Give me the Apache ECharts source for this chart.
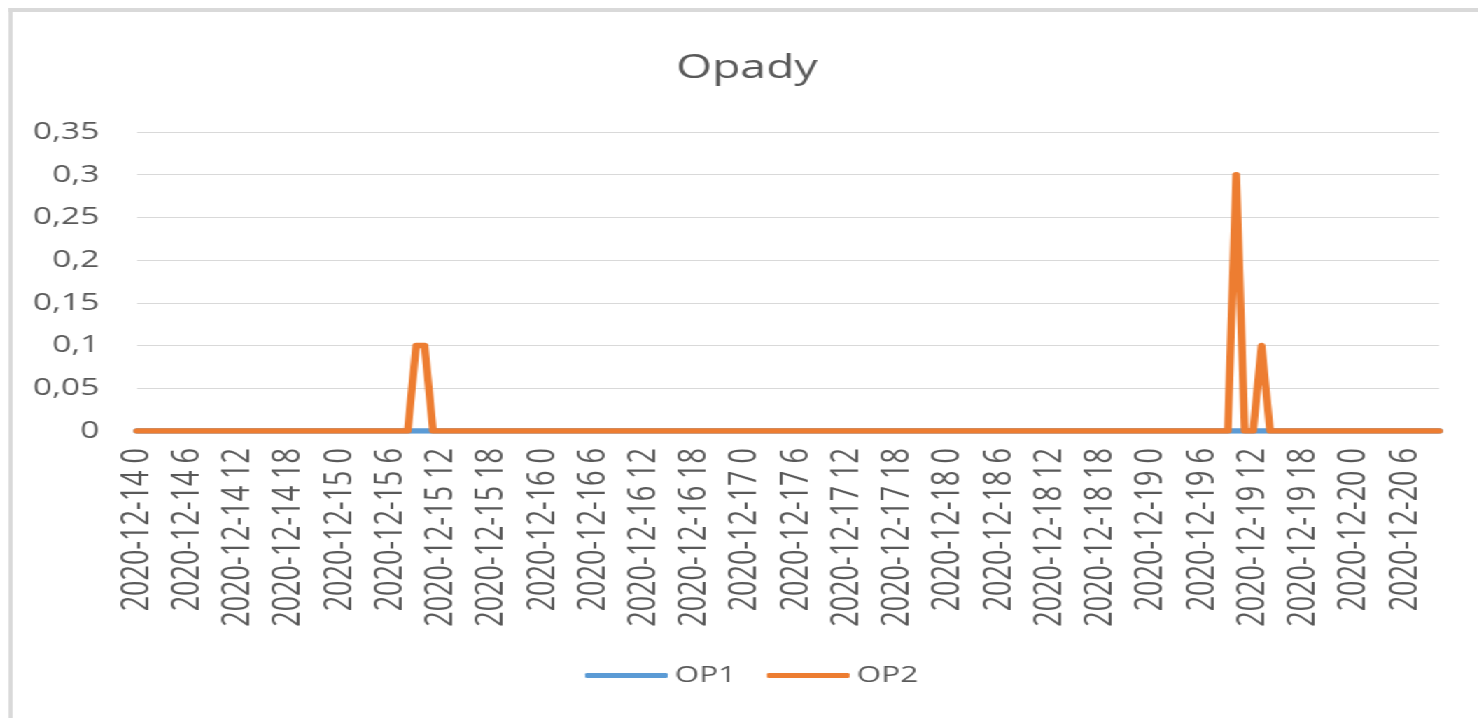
<!DOCTYPE html>
<html>
<head>
<meta charset="utf-8">
<title>Opady</title>
<script src="https://cdn.jsdelivr.net/npm/echarts@6/dist/echarts.min.js"></script>
<style>
  html, body { margin: 0; padding: 0; background: #fff; overflow: hidden; }
  /* the reference picture is stretched horizontally, so draw narrow and scale */
  #wrap {
    position: absolute; left: 0; top: 0;
    width: 1056px; height: 718px;
    transform: scaleX(1.4); transform-origin: 0 0;
  }
  #frame {
    position: absolute; left: 6px; top: 8px; right: -20px; bottom: -20px;
    border-left: 3px solid #d9d9d9; border-top: 4px solid #d9d9d9;
  }
  #chart { position: absolute; left: 0; top: 0; width: 1056px; height: 718px; }
</style>
</head>
<body>
<div id="wrap">
  <div id="frame"></div>
  <div id="chart"></div>
</div>
<script>
// hourly readings, 2020-12-14 0:00 .. 2020-12-20 10:00
const days = ['2020-12-14', '2020-12-15', '2020-12-16', '2020-12-17', '2020-12-18', '2020-12-19', '2020-12-20']
const pointCount = 155

const categories = []
for (let i = 0; i < pointCount; i++) {
  categories.push(days[Math.floor(i / 24)] + ' ' + (i % 24))
}

const op1 = [
  0, 0, 0, 0, 0, 0, 0, 0, 0, 0, 0, 0, 0, 0, 0, 0, 0, 0, 0, 0, 0, 0, 0, 0,
  0, 0, 0, 0, 0, 0, 0, 0, 0, 0, 0, 0, 0, 0, 0, 0, 0, 0, 0, 0, 0, 0, 0, 0,
  0, 0, 0, 0, 0, 0, 0, 0, 0, 0, 0, 0, 0, 0, 0, 0, 0, 0, 0, 0, 0, 0, 0, 0,
  0, 0, 0, 0, 0, 0, 0, 0, 0, 0, 0, 0, 0, 0, 0, 0, 0, 0, 0, 0, 0, 0, 0, 0,
  0, 0, 0, 0, 0, 0, 0, 0, 0, 0, 0, 0, 0, 0, 0, 0, 0, 0, 0, 0, 0, 0, 0, 0,
  0, 0, 0, 0, 0, 0, 0, 0, 0, 0, 0, 0, 0, 0, 0, 0, 0, 0, 0, 0, 0, 0, 0, 0,
  0, 0, 0, 0, 0, 0, 0, 0, 0, 0, 0
]

const op2 = [
  0, 0, 0, 0, 0, 0, 0, 0, 0, 0, 0, 0, 0, 0, 0, 0, 0, 0, 0, 0, 0, 0, 0, 0,
  0, 0, 0, 0, 0, 0, 0, 0, 0, 0.1, 0.1, 0, 0, 0, 0, 0, 0, 0, 0, 0, 0, 0, 0, 0,
  0, 0, 0, 0, 0, 0, 0, 0, 0, 0, 0, 0, 0, 0, 0, 0, 0, 0, 0, 0, 0, 0, 0, 0,
  0, 0, 0, 0, 0, 0, 0, 0, 0, 0, 0, 0, 0, 0, 0, 0, 0, 0, 0, 0, 0, 0, 0, 0,
  0, 0, 0, 0, 0, 0, 0, 0, 0, 0, 0, 0, 0, 0, 0, 0, 0, 0, 0, 0, 0, 0, 0, 0,
  0, 0, 0, 0, 0, 0, 0, 0, 0, 0, 0.3, 0, 0, 0.1, 0, 0, 0, 0, 0, 0, 0, 0, 0, 0,
  0, 0, 0, 0, 0, 0, 0, 0, 0, 0, 0
]

const textColor = '#595959'
const font = '"Open Sans", "Liberation Sans", sans-serif'

const chart = echarts.init(document.getElementById('chart'))

chart.setOption({
  animation: false,
  color: ['#5B9BD5', '#ED7D31'],
  textStyle: { fontFamily: font },
  title: {
    text: 'Opady',
    left: 478,
    top: 47,
    textStyle: { fontSize: 33, fontWeight: 'normal', color: textColor, fontFamily: font }
  },
  legend: {
    data: ['OP1', 'OP2'],
    left: 413,
    top: 659,
    icon: 'roundRect',
    itemWidth: 59,
    itemHeight: 5,
    itemGap: 22,
    textStyle: { fontSize: 22.5, color: textColor, fontFamily: font }
  },
  grid: {
    left: 98,
    right: 28,
    top: 132,
    height: 299,
    containLabel: false
  },
  xAxis: {
    type: 'category',
    data: categories,
    boundaryGap: false,
    axisLine: { lineStyle: { color: '#d9d9d9' } },
    axisTick: { show: false },
    axisLabel: {
      interval: 5,
      rotate: 90,
      margin: 17,
      fontSize: 27,
      color: textColor,
      fontFamily: font
    },
    splitLine: { show: false }
  },
  yAxis: {
    type: 'value',
    min: 0,
    max: 0.35,
    interval: 0.05,
    axisLine: { show: false },
    axisTick: { show: false },
    axisLabel: {
      margin: 27,
      fontSize: 24,
      color: textColor,
      fontFamily: font,
      formatter: v => String(+v.toFixed(2)).replace('.', ',')
    },
    splitLine: { lineStyle: { color: '#d9d9d9', width: 1 } }
  },
  series: [{
    name: 'OP1',
    type: 'line',
    data: op1,
    symbol: 'none',
    lineStyle: { width: 5.5, cap: 'round', join: 'round' }
  }, {
    name: 'OP2',
    type: 'line',
    data: op2,
    symbol: 'none',
    lineStyle: { width: 5.5, cap: 'round', join: 'round' }
  }]
})
</script>
</body>
</html>
